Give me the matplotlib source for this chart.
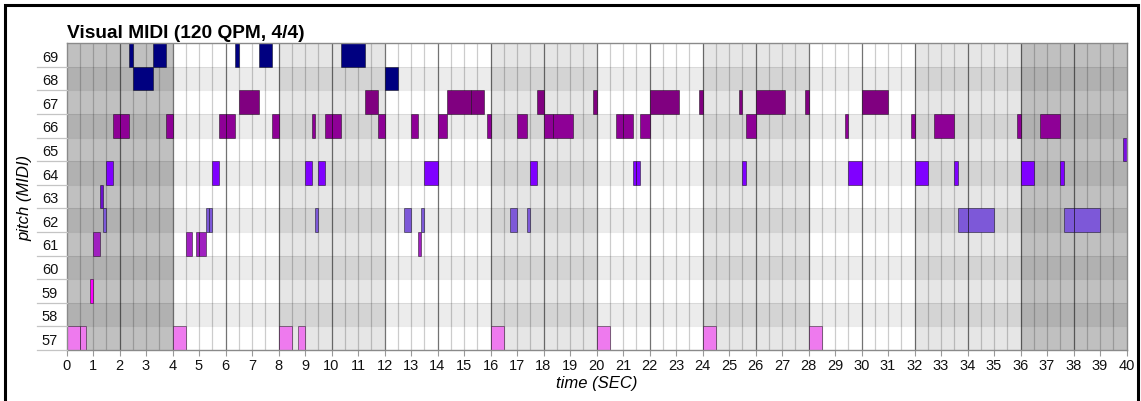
import matplotlib
matplotlib.use("Agg")
import matplotlib.pyplot as plt
from matplotlib.patches import Rectangle
import matplotlib.transforms as mtransforms

plt.rcParams['font.family'] = ['Liberation Sans', 'DejaVu Sans']

# ---- note data: pitch, onset and release (seconds) ----
note_pitch = [
    69, 69, 69, 69, 69,
    68, 68,
    67, 67, 67, 67, 67, 67, 67, 67, 67, 67, 67, 67,
    66, 66, 66, 66, 66, 66, 66, 66, 66, 66, 66, 66, 66, 66, 66, 66, 66,
    66, 66, 66, 66, 66, 66, 66, 66,
    65,
    64, 64, 64, 64, 64, 64, 64, 64, 64, 64, 64, 64, 64, 64,
    63,
    62, 62, 62, 62, 62, 62, 62, 62, 62, 62, 62, 62,
    61, 61, 61, 61, 61,
    59,
    57, 57, 57, 57, 57, 57, 57, 57, 57,
]
note_start = [
    2.375, 3.25, 6.375, 7.25, 10.375,
    2.5, 12.0,
    6.5, 11.25, 14.375, 15.25, 17.75, 19.875, 22.0, 23.875, 25.375, 26.0, 27.875, 30.0,
    1.75, 2.0, 3.75, 5.75, 6.0, 7.75, 9.25, 9.75, 10.0, 11.75, 13.0, 14.0, 15.875,
    17.0, 18.0, 18.375, 20.75, 21.0, 21.625, 25.625, 29.375, 31.875, 32.75, 35.875, 36.75,
    39.875,
    1.5, 5.5, 9.0, 9.5, 13.5, 17.5, 21.375, 21.5, 25.5, 29.5, 32.0, 33.5, 36.0, 37.5,
    1.25,
    1.375, 5.25, 5.375, 9.375, 12.75, 13.375, 16.75, 17.375, 33.625, 34.0, 37.625, 38.0,
    1.0, 4.5, 4.875, 5.0, 13.25,
    0.875,
    0.0, 0.5, 4.0, 8.0, 8.75, 16.0, 20.0, 24.0, 28.0,
]
note_end = [
    2.5, 3.75, 6.5, 7.75, 11.25,
    3.25, 12.5,
    7.25, 11.75, 15.25, 15.75, 18.0, 20.0, 23.125, 24.0, 25.5, 27.125, 28.0, 31.0,
    2.0, 2.375, 4.0, 6.0, 6.375, 8.0, 9.375, 10.0, 10.375, 12.0, 13.25, 14.375, 16.0,
    17.375, 18.375, 19.125, 21.0, 21.375, 22.0, 26.0, 29.5, 32.0, 33.5, 36.0, 37.5,
    40.0,
    1.75, 5.75, 9.25, 9.75, 14.0, 17.75, 21.5, 21.625, 25.625, 30.0, 32.5, 33.625, 36.5, 37.625,
    1.375,
    1.5, 5.375, 5.5, 9.5, 13.0, 13.5, 17.0, 17.5, 34.0, 35.0, 38.0, 39.0,
    1.25, 4.75, 5.0, 5.25, 13.375,
    1.0,
    0.5, 0.75, 4.5, 8.5, 9.0, 16.5, 20.5, 24.5, 28.5,
]

# colour assigned to each pitch row
pitches = [69, 68, 67, 66, 65, 64, 63, 62, 61, 60, 59, 58, 57]
pitch_colors = ['#000080', '#000080', '#800080', '#8e0096', '#7a10e0', '#8000ff',
                '#6c10cc', '#7d58d8', '#a020c0', '#a020c0', '#ff00ff', '#ff00ff', '#ee7aee']
color_of = dict(zip(pitches, pitch_colors))

# shading of each 4-second section
section_starts = [0, 4, 8, 12, 16, 20, 24, 28, 32, 36]
section_colors = ['#c0c0c0', '#ffffff', '#e6e6e6', '#ffffff', '#e6e6e6',
                  '#ffffff', '#e6e6e6', '#ffffff', '#e6e6e6', '#c0c0c0']
section_len = 4

t_max = 40
x_ticks = list(range(0, 41))

W, H = 1141, 402
fig = plt.figure(figsize=(W / 100, H / 100), dpi=100)
ax = fig.add_axes([66.5 / W, 51 / H, 1060 / W, 306.7 / H])

# background sections
for s, c in zip(section_starts, section_colors):
    ax.axvspan(s, s + section_len, color=c, lw=0, zorder=0)
# alternate row stripes
for p in pitches:
    if p % 2 == 0:
        ax.axhspan(p - 0.5, p + 0.5, color='black', alpha=0.075, lw=0, zorder=0.5)
# row separators
for p in pitches[:-1]:
    ax.axhline(p - 0.5, color='black', alpha=0.08, lw=0.8, zorder=1)

# beat and bar lines
for i in range(1, t_max * 2):
    t = i / 2
    if t % 2 == 0:
        ax.axvline(t, color='black', alpha=0.55, lw=0.9, zorder=1)
    else:
        ax.axvline(t, color='black', alpha=0.2, lw=0.9, zorder=1)

# notes
for p, s, e in zip(note_pitch, note_start, note_end):
    ax.barh(p, e - s, left=s, height=1.0, color=color_of[p],
            edgecolor=(0, 0, 0, 0.45), linewidth=0.7, zorder=2)

ax.set_xlim(0, t_max)
ax.set_ylim(min(pitches) - 0.5, max(pitches) + 0.5)
ax.set_xticks(x_ticks)
ax.set_xticklabels([str(t) for t in x_ticks])
ax.set_yticks(pitches)
ax.set_yticklabels([str(p) for p in pitches])
ax.tick_params(axis='x', length=4.5, width=0.8, color='#999999', pad=1.5,
               labelsize=10.5, labelcolor='#111111')
ax.tick_params(axis='y', length=0, pad=6, labelsize=10.5, labelcolor='#111111')
for sp in ax.spines.values():
    sp.set_color('#8a8a8a')
    sp.set_linewidth(1.0)

# separators continuing into the pitch label column
trans = mtransforms.blended_transform_factory(ax.transAxes, ax.transData)
for p in pitches:
    ax.plot([-0.028, 0], [p - 0.5, p - 0.5], transform=trans, color='#c4c4c4',
            lw=0.9, clip_on=False, zorder=3)

ax.set_xlabel('time (SEC)', fontstyle='italic', fontsize=12, labelpad=2)
ax.set_ylabel('pitch (MIDI)', fontstyle='italic', fontsize=12, labelpad=7)

fig.text(67 / W, 1 - 38.5 / H, 'Visual MIDI (120 QPM, 4/4)', fontsize=13.8,
         fontweight='bold', ha='left', va='baseline')

# outer frame
fig.patches.append(Rectangle((4.8 / W, -0.2), (1138.3 - 4.8) / W, 1.2 - 5.8 / H,
                             transform=fig.transFigure, fill=False,
                             edgecolor='black', linewidth=2.2))

fig.savefig('out.png', dpi=100)
